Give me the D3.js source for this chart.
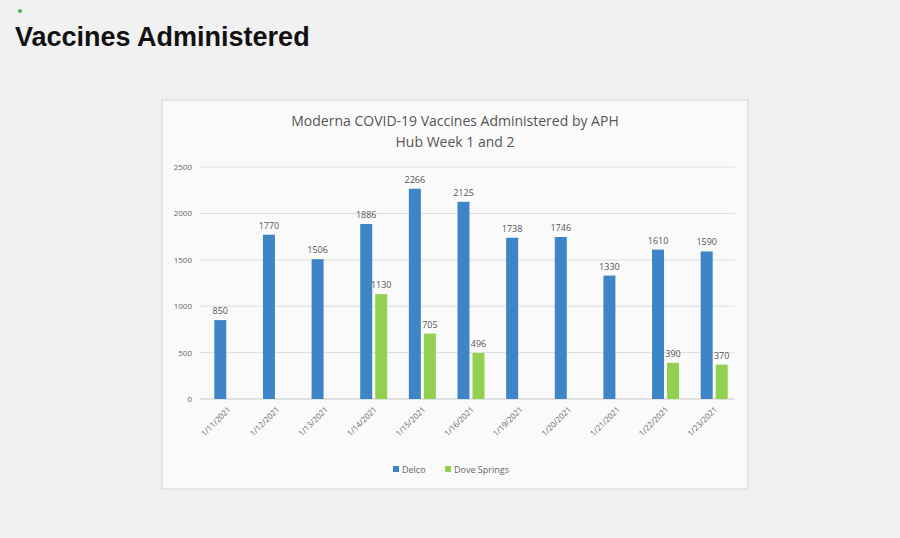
<!DOCTYPE html>
<html lang="en">
<head>
<meta charset="UTF-8" />
<title>Vaccines Administered</title>
<style>
  body { margin: 0; background: #f1f1f1; font-family: "Liberation Sans", Arial, sans-serif; }
</style>
</head>
<body>
<div id="chart"></div>
<script src="https://cdn.jsdelivr.net/npm/d3@7"></script>
<script>
const dates = ["1/11/2021","1/12/2021","1/13/2021","1/14/2021","1/15/2021","1/16/2021","1/19/2021","1/20/2021","1/21/2021","1/22/2021","1/23/2021"];
const delco = [850,1770,1506,1886,2266,2125,1738,1746,1330,1610,1590];
const doveSprings = [null,null,null,1130,705,496,null,null,null,390,370];
const yTicks = [0,500,1000,1500,2000,2500];

(() => {
  const W = 900, H = 538;
  const svg = d3.select("#chart").append("svg").attr("width", W).attr("height", H);

  svg.append("rect").attr("width", W).attr("height", H).attr("fill", "#f1f1f1");
  svg.append("circle").attr("cx", 20).attr("cy", 11).attr("r", 2).attr("fill", "#4caf50");
  svg.append("text").attr("x", 15).attr("y", 46)
    .attr("font-size", 27).attr("font-weight", "bold").attr("fill", "#111")
    .text("Vaccines Administered");

  // chart box
  svg.append("rect").attr("x", 162).attr("y", 100).attr("width", 586).attr("height", 389)
    .attr("fill", "#fafafa").attr("stroke", "#d4d4d4");

  svg.append("text").attr("x", 455).attr("y", 126).attr("text-anchor", "middle")
    .attr("font-size", 14).attr("fill", "#555").attr("font-family", "Open Sans")
    .text("Moderna COVID-19 Vaccines Administered by APH");
  svg.append("text").attr("x", 455).attr("y", 147).attr("text-anchor", "middle")
    .attr("font-size", 14).attr("fill", "#555").attr("font-family", "Open Sans")
    .text("Hub Week 1 and 2");

  const x = d3.scaleBand().domain(dates).range([203, 738]);
  const y = d3.scaleLinear().domain([0, 2500]).range([399, 167]);

  const g = svg.append("g").attr("font-family", "Open Sans");
  g.selectAll(".grid").data(yTicks).join("line")
    .attr("x1", 200).attr("x2", 735)
    .attr("y1", d => y(d)).attr("y2", d => y(d))
    .attr("stroke", d => d === 0 ? "#c8c8c8" : "#dedede");
  g.selectAll(".yl").data(yTicks).join("text")
    .attr("x", 192).attr("y", d => y(d) + 3).attr("text-anchor", "end")
    .attr("font-size", 8).attr("fill", "#666").text(d => d);

  const bw = 12;
  const series = [
    { vals: delco, color: "#3d85c6", off: -bw - 1 },
    { vals: doveSprings, color: "#92d050", off: 2 }
  ];
  series.forEach(s => {
    const pts = dates.map((d, i) => ({ d, v: s.vals[i] })).filter(p => p.v != null);
    g.selectAll(null).data(pts).join("rect")
      .attr("x", p => x(p.d) + x.bandwidth() / 2 + s.off)
      .attr("y", p => y(p.v)).attr("width", bw)
      .attr("height", p => y(0) - y(p.v)).attr("fill", s.color);
    g.selectAll(null).data(pts).join("text")
      .attr("x", p => x(p.d) + x.bandwidth() / 2 + s.off + bw / 2)
      .attr("y", p => y(p.v) - 6).attr("text-anchor", "middle")
      .attr("font-size", 9).attr("fill", "#555").text(p => p.v);
  });

  g.selectAll(".xl").data(dates).join("text")
    .attr("transform", d => `translate(${x(d) + x.bandwidth() / 2 + 4},${410}) rotate(-45)`)
    .attr("text-anchor", "end").attr("font-size", 8).attr("fill", "#666").text(d => d);

  // legend
  const legend = [["Delco", "#3d85c6", 393], ["Dove Springs", "#92d050", 445]];
  legend.forEach(([name, c, lx]) => {
    g.append("rect").attr("x", lx).attr("y", 466).attr("width", 6).attr("height", 6).attr("fill", c);
    g.append("text").attr("x", lx + 9).attr("y", 473).attr("font-size", 9).attr("fill", "#666").text(name);
  });
})();
</script>
</body>
</html>
